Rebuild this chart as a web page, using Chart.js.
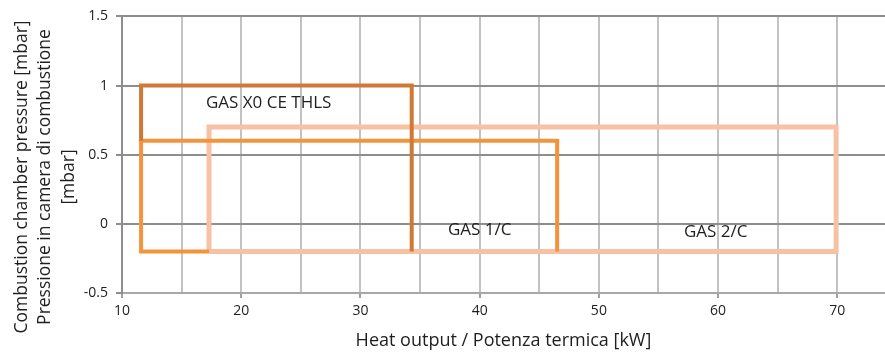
<!DOCTYPE html>
<html>
<head>
<meta charset="utf-8">
<script src="https://cdn.jsdelivr.net/npm/chart.js@4.4.0/dist/chart.umd.min.js"></script>
<style>
  html, body { margin: 0; padding: 0; background: #fff; }
  #wrap { width: 885px; height: 352px; position: relative; }
</style>
</head>
<body>
<div id="wrap"><canvas id="chart"></canvas></div>
<script>
// ===== data =====
const seriesNames = ["GAS X0 CE THLS", "GAS 1/C", "GAS 2/C"];

// GAS X0 CE THLS outline (left + top + right side only visible)
const x0PowerKw = [11.6, 11.6, 34.3, 34.3];
const x0Pressure = [0.6, 1, 1, -0.2];

// GAS 1/C outline
const c1PowerKw = [17.3, 11.6, 11.6, 46.5, 46.5];
const c1Pressure = [-0.2, -0.2, 0.6, 0.6, -0.2];

// GAS 2/C outline (closed)
const c2PowerKw = [17.3, 17.3, 69.9, 69.9, 17.3];
const c2Pressure = [-0.2, 0.7, 0.7, -0.2, -0.2];

// where the series names sit inside the plot
const labelPowerKw = [22.3, 40.0, 59.8];
const labelPressure = [0.87, -0.045, -0.06];

const xTicks = [10, 15, 20, 25, 30, 35, 40, 45, 50, 55, 60, 65, 70];
const yTicks = [-0.5, 0, 0.5, 1, 1.5];

const colors = ["#cf7934", "#f5923c", "#f7c1a3"];
const FONT = "'Open Sans', 'DejaVu Sans', sans-serif";

function toPoints(xs, ys) {
  return xs.map((x, i) => ({ x: x, y: ys[i] }));
}

// ===== text plugin: series labels + y axis title =====
const textPlugin = {
  id: "textPlugin",
  afterDatasetsDraw(chart) {
    const ctx = chart.ctx;
    const xs = chart.scales.x, ys = chart.scales.y;
    ctx.save();
    ctx.fillStyle = "#1e1e1e";
    ctx.font = "17px " + FONT;
    ctx.textAlign = "center";
    ctx.textBaseline = "middle";
    seriesNames.forEach((name, i) => {
      ctx.fillText(name, xs.getPixelForValue(labelPowerKw[i]), ys.getPixelForValue(labelPressure[i]));
    });
    ctx.restore();
  },
  afterDraw(chart) {
    const ctx = chart.ctx;
    const lines = ["Combustion chamber pressure [mbar]", "Pressione in camera di combustione", "[mbar]"];
    ctx.save();
    ctx.translate(0, 177);
    ctx.rotate(-Math.PI / 2);
    ctx.fillStyle = "#1e1e1e";
    ctx.font = "17.5px " + FONT;
    ctx.textAlign = "center";
    ctx.textBaseline = "middle";
    lines.forEach((l, i) => ctx.fillText(l, 0, 22 + i * 23.5));
    ctx.restore();
  }
};

new Chart(document.getElementById("chart").getContext("2d"), {
  type: "scatter",
  data: {
    datasets: [
      { label: seriesNames[0], data: toPoints(x0PowerKw, x0Pressure), borderColor: colors[0] },
      { label: seriesNames[1], data: toPoints(c1PowerKw, c1Pressure), borderColor: colors[1] },
      { label: seriesNames[2], data: toPoints(c2PowerKw, c2Pressure), borderColor: colors[2], borderWidth: 5 }
    ].map(d => Object.assign({
      showLine: true,
      borderWidth: 4,
      pointRadius: 0,
      fill: false,
      tension: 0,
      borderJoinStyle: "miter"
    }, d))
  },
  options: {
    responsive: true,
    maintainAspectRatio: false,
    animation: false,
    layout: { padding: { top: 13, right: 0, bottom: 0, left: 0 } },
    plugins: {
      legend: { display: false },
      tooltip: { enabled: false }
    },
    scales: {
      x: {
        type: "linear",
        min: 10,
        max: 74,
        afterBuildTicks: s => { s.ticks = xTicks.map(v => ({ value: v })); },
        afterFit: s => { s.height = 59; },
        ticks: {
          autoSkip: false,
          maxRotation: 0,
          color: "#1e1e1e",
          font: { family: FONT, size: 14 },
          padding: 5,
          callback: v => (v % 10 === 0 ? String(v) : "")
        },
        grid: {
          color: "#c2c2c2",
          lineWidth: 2,
          tickLength: 5,
          tickColor: c => (c.tick && c.tick.value % 10 === 0 ? "#a0a0a0" : "rgba(0,0,0,0)")
        },
        border: { color: "#a8a8a8", width: 2 },
        title: {
          display: true,
          text: "Heat output / Potenza termica [kW]",
          color: "#1e1e1e",
          font: { family: FONT, size: 18 },
          padding: { top: 0, bottom: 0 }
        }
      },
      y: {
        type: "linear",
        min: -0.5,
        max: 1.5,
        afterBuildTicks: s => { s.ticks = yTicks.map(v => ({ value: v })); },
        afterFit: s => { s.width = 122; },
        ticks: {
          color: "#1e1e1e",
          font: { family: FONT, size: 14 },
          padding: 8,
          callback: v => String(v)
        },
        grid: {
          color: "#8e8e8e",
          lineWidth: 2,
          tickLength: 6,
          tickColor: "#8e8e8e"
        },
        border: { color: "#8e8e8e", width: 2 }
      }
    }
  },
  plugins: [textPlugin]
});
</script>
</body>
</html>
